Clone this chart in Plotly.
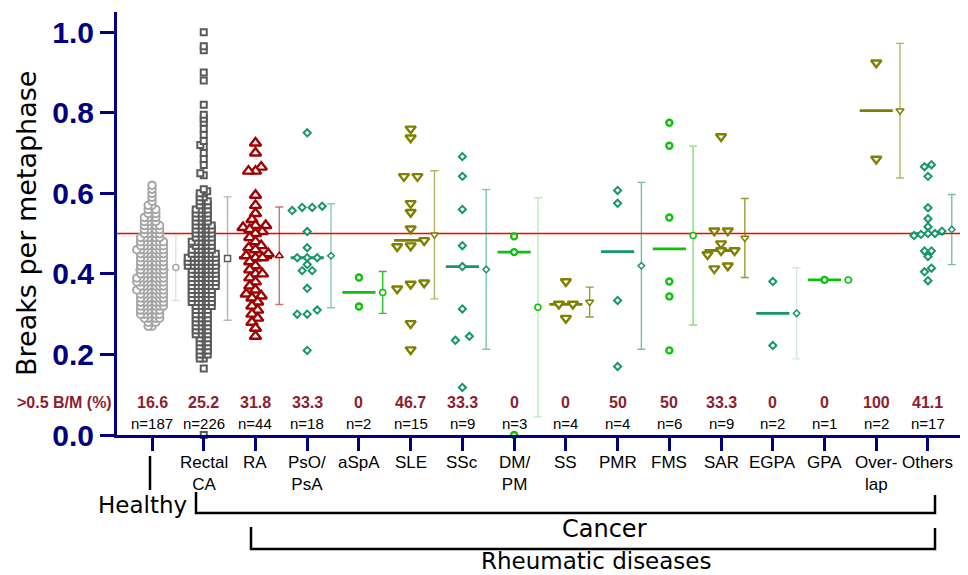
import numpy as np
import plotly.graph_objects as go

# ---------------- data ----------------
categories = ["Healthy", "Rectal CA", "RA", "PsO/PsA", "aSpA", "SLE", "SSc", "DM/PM",
              "SS", "PMR", "FMS", "SAR", "EGPA", "GPA", "Overlap", "Others"]
category_labels = ["", "Rectal<br>CA", "RA", "PsO/<br>PsA", "aSpA", "SLE", "SSc", "DM/<br>PM",
                   "SS", "PMR", "FMS", "SAR", "EGPA", "GPA", "Over-<br>lap", "Others"]
pct_above = ["16.6", "25.2", "31.8", "33.3", "0", "46.7", "33.3", "0",
             "0", "50", "50", "33.3", "0", "0", "100", "41.1"]
n_per_group = [187, 226, 44, 18, 2, 15, 9, 3, 4, 4, 6, 9, 2, 1, 2, 17]

healthy_levels = [0.27, 0.28, 0.29, 0.30, 0.31, 0.32, 0.33, 0.34, 0.35, 0.36, 0.37, 0.38,
                  0.39, 0.40, 0.41, 0.42, 0.43, 0.44, 0.45, 0.46, 0.47, 0.48, 0.49, 0.50,
                  0.51, 0.52, 0.53, 0.54, 0.55, 0.56, 0.57, 0.58, 0.59, 0.60, 0.61, 0.62]
healthy_counts = [2, 3, 5, 6, 6, 7, 7, 7, 7, 8, 7, 8,
                  8, 7, 7, 7, 7, 7, 7, 8, 7, 7, 6, 5,
                  5, 5, 4, 4, 3, 3, 2, 1, 1, 1, 1, 1]

rectal_levels = [0.0, 0.165, 0.19, 0.20, 0.21, 0.22, 0.23, 0.24, 0.25, 0.26, 0.27, 0.28,
                 0.29, 0.30, 0.31, 0.32, 0.33, 0.34, 0.35, 0.36, 0.37, 0.38, 0.39, 0.40,
                 0.41, 0.42, 0.43, 0.44, 0.45, 0.46, 0.47, 0.48, 0.49, 0.50, 0.51, 0.52,
                 0.53, 0.54, 0.55, 0.56, 0.57, 0.58, 0.59, 0.60, 0.605, 0.61, 0.645, 0.65,
                 0.67, 0.685, 0.70, 0.715, 0.72, 0.73, 0.745, 0.76, 0.775, 0.785, 0.795,
                 0.82, 0.88, 0.90, 0.955, 0.965, 1.0]
rectal_counts = [1, 1, 2, 3, 3, 3, 3, 3, 4, 4, 4, 4,
                 4, 4, 4, 5, 6, 6, 6, 6, 7, 7, 7, 7,
                 7, 8, 8, 8, 7, 6, 5, 6, 5, 5, 5, 5,
                 4, 4, 4, 4, 3, 3, 2, 2, 1, 1, 1, 1,
                 1, 1, 1, 1, 1, 1, 1, 1, 1, 1, 1,
                 1, 1, 1, 1, 1, 1]

ra = [0.725, 0.70, 0.665, 0.655, 0.655, 0.595, 0.57, 0.55, 0.535, 0.52, 0.52, 0.515, 0.51,
      0.505, 0.50, 0.49, 0.48, 0.47, 0.465, 0.46, 0.45, 0.445, 0.44, 0.44, 0.43, 0.42, 0.41,
      0.40, 0.40, 0.39, 0.38, 0.37, 0.36, 0.35, 0.345, 0.34, 0.33, 0.32, 0.31, 0.30, 0.29,
      0.28, 0.265, 0.245]
pso_psa = [0.75, 0.568, 0.565, 0.565, 0.557, 0.505, 0.465, 0.44, 0.44, 0.44, 0.423, 0.408,
           0.408, 0.364, 0.31, 0.30, 0.30, 0.21]
aspa = [0.391, 0.319]
sle = [0.76, 0.738, 0.642, 0.642, 0.575, 0.553, 0.512, 0.483, 0.47, 0.468, 0.378, 0.375,
       0.363, 0.277, 0.212]
ssc = [0.691, 0.642, 0.56, 0.47, 0.418, 0.313, 0.245, 0.235, 0.118]
dm_pm = [0.493, 0.454, 0.0]
ss = [0.381, 0.325, 0.325, 0.29]
pmr = [0.607, 0.575, 0.334, 0.17]
fms = [0.775, 0.718, 0.54, 0.381, 0.344, 0.21]
sar = [0.741, 0.507, 0.507, 0.475, 0.458, 0.458, 0.448, 0.42, 0.413]
egpa = [0.381, 0.222]
gpa = [0.385]
overlap = [0.924, 0.685]
others = [0.671, 0.666, 0.642, 0.564, 0.537, 0.517, 0.506, 0.50, 0.50, 0.498, 0.495,
          0.457, 0.457, 0.443, 0.414, 0.405, 0.383]

group_mean = [0.416, 0.438, 0.445, 0.445, 0.354, 0.497, 0.411, 0.317,
              0.330, 0.420, 0.495, 0.489, 0.302, 0.385, 0.805, 0.510]
group_sd = [0.082, 0.153, 0.121, 0.129, 0.052, 0.159, 0.198, 0.272,
            0.037, 0.207, 0.222, 0.098, 0.113, 0.0, 0.167, 0.087]
group_median = [0.41, 0.42, 0.44, 0.44, 0.354, 0.483, 0.418, 0.454,
                0.324, 0.455, 0.462, 0.458, 0.302, 0.385, 0.805, 0.50]
threshold = 0.5
# --------------------------------------

healthy = np.repeat(healthy_levels, healthy_counts)
rectal = np.repeat(rectal_levels, rectal_counts)
group_values = [healthy, rectal, ra, pso_psa, aspa, sle, ssc, dm_pm, ss, pmr, fms, sar,
                egpa, gpa, overlap, others]

# layout geometry (page has an 8px body margin; page coords are converted below)
BODY = 8
W, H = 968 - BODY, 575 - BODY
PLOT_L, PLOT_R, PLOT_T, PLOT_B = 117, 966, 12, 435   # page pixel coords
ML, MR, MT = PLOT_L - BODY, W - (PLOT_R - BODY), PLOT_T - BODY
MB = H - (PLOT_B - BODY)
PW, PH = W - ML - MR, H - MT - MB
XR = [-0.677, 15.735]
YR = [0.0, 1.05]
PX_X = PW / (XR[1] - XR[0])
PX_Y = PH / (YR[1] - YR[0])


def px_x(px):
    return (px - PLOT_L) / PW


def px_y(py):
    return (PLOT_B - py) / PH


def swarm_offsets(vals, d):
    ypx = np.asarray(vals, dtype=float) * PX_Y
    order = np.argsort(ypx, kind="stable")
    xs = np.zeros(len(ypx))
    placed = []
    for i in order:
        y = ypx[i]
        near = [(px, py) for px, py in placed if abs(py - y) < d]
        cands = [0.0]
        for px, py in near:
            dx = np.sqrt(d * d - (py - y) ** 2)
            cands += [px + dx, px - dx]
        cands.sort(key=lambda c: (abs(c), c))
        for c in cands:
            if all((c - px) ** 2 + (y - py) ** 2 >= d * d - 1e-6 for px, py in near):
                xs[i] = c
                break
        placed.append((xs[i], y))
    return xs / PX_X


def row_offsets(vals, spacing, tol):
    ypx = np.asarray(vals, dtype=float) * PX_Y
    order = np.argsort(ypx, kind="stable")
    xs = np.zeros(len(ypx))
    rows, row = [], []
    for i in order:
        if row and ypx[i] - ypx[row[0]] > tol:
            rows.append(row)
            row = []
        row.append(i)
    if row:
        rows.append(row)
    for r in rows:
        k = len(r)
        for j, idx in enumerate(r):
            xs[idx] = (j - (k - 1) / 2) * spacing
    return xs / PX_X


GRAY_L = (166, 166, 166)
GRAY_D = (90, 90, 90)
RED = (160, 0, 0)
TEAL = (22, 150, 106)
GREEN = (12, 192, 12)
OLIVE = (128, 128, 0)

# symbol, rgb, size, line width, mode, param1, param2, errbar alpha, mean marker size
styles = [
    ("circle", GRAY_L, 7.5, 2.0, "swarm", 3.8, 0, 0.35, 6),
    ("square", GRAY_D, 6, 2.0, "swarm", 4.0, 0, 0.45, 6),
    ("triangle-up", RED, 10, 2.4, "swarm", 7.0, 0, 0.55, 7),
    ("diamond", TEAL, 5.5, 2.0, "rows", 10, 5, 0.5, 5),
    ("circle", GREEN, 6, 2.4, "rows", 10, 5, 0.9, 6),
    ("triangle-down", OLIVE, 9, 2.4, "rows", 13.5, 6.5, 0.6, 7),
    ("diamond", TEAL, 5.5, 2.0, "rows", 14, 5, 0.55, 5),
    ("circle", GREEN, 6, 2.4, "rows", 10, 5, 0.3, 6),
    ("triangle-down", OLIVE, 9, 2.4, "rows", 14, 6.5, 0.8, 7),
    ("diamond", TEAL, 5.5, 2.0, "rows", 10, 5, 0.6, 5),
    ("circle", GREEN, 6, 2.4, "rows", 10, 5, 0.5, 6),
    ("triangle-down", OLIVE, 9, 2.4, "rows", 13.5, 6.5, 0.8, 7),
    ("diamond", TEAL, 5.5, 2.0, "rows", 10, 5, 0.2, 5),
    ("circle", GREEN, 6, 2.4, "rows", 10, 5, 0.9, 6),
    ("triangle-down", OLIVE, 9, 2.4, "rows", 13.5, 6.5, 0.6, 7),
    ("diamond", TEAL, 5.5, 2.0, "rows", 7, 5, 0.6, 5),
]


def rgb(c, a=1.0):
    return f"rgba({c[0]},{c[1]},{c[2]},{a})"


fig = go.Figure()

# median lines
for i, (st, med) in enumerate(zip(styles, group_median)):
    fig.add_trace(go.Scatter(x=[i - 0.32, i + 0.32], y=[med, med], mode="lines",
                             line=dict(color=rgb(st[1]), width=2.8), hoverinfo="skip"))

# points
for i, (st, vals) in enumerate(zip(styles, group_values)):
    sym, col, size, lw, mode, p1, p2, ea, ms = st
    if mode == "swarm":
        off = swarm_offsets(vals, p1)
    else:
        off = row_offsets(vals, p1, p2)
    fig.add_trace(go.Scatter(
        x=i + off, y=list(vals), mode="markers", cliponaxis=False,
        marker=dict(symbol=sym, size=size, color="white",
                    line=dict(color=rgb(col), width=lw)),
        hoverinfo="y"))

# mean +/- SD
for i, (st, m, sd) in enumerate(zip(styles, group_mean, group_sd)):
    sym, col, size, lw, mode, p1, p2, ea, ms = st
    fig.add_trace(go.Scatter(
        x=[i + 0.46], y=[m], mode="markers", cliponaxis=False,
        marker=dict(symbol=sym, size=ms, color="white",
                    line=dict(color=rgb(col), width=1.5)),
        error_y=dict(type="data", array=[sd], visible=True, color=rgb(col, ea),
                     thickness=1.4, width=4),
        hoverinfo="y"))

NAVY = "#000080"
MAROON = "#8B1E2E"

annotations = []
for i in range(len(categories)):
    annotations.append(dict(x=i, y=(PLOT_B - 402) / PX_Y, xref="x", yref="y",
                            text=pct_above[i], showarrow=False, xanchor="center",
                            yanchor="middle",
                            font=dict(family="Liberation Sans", size=16, color=MAROON,
                                      weight="bold")))
    annotations.append(dict(x=i, y=(PLOT_B - 423) / PX_Y, xref="x", yref="y",
                            text=f"n={n_per_group[i]}", showarrow=False, xanchor="center",
                            yanchor="middle",
                            font=dict(family="Liberation Sans", size=15, color="black")))
    if category_labels[i]:
        annotations.append(dict(x=i, y=px_y(451), xref="x", yref="paper",
                                text=category_labels[i], showarrow=False, xanchor="center",
                                yanchor="top",
                                font=dict(family="Liberation Sans", size=17, color="black")))

annotations += [
    dict(x=px_x(114), y=px_y(402), xref="paper", yref="paper", text=">0.5 B/M (%)",
         showarrow=False, xanchor="right", yanchor="middle",
         font=dict(family="Liberation Sans", size=16, color=MAROON, weight="bold")),
    dict(x=px_x(26), y=px_y(224), xref="paper", yref="paper", text="Breaks per metaphase",
         showarrow=False, textangle=-90, xanchor="center", yanchor="middle",
         font=dict(family="DejaVu Sans", size=27, color="black")),
    dict(x=px_x(142), y=px_y(505), xref="paper", yref="paper", text="Healthy",
         showarrow=False, xanchor="center", yanchor="middle",
         font=dict(family="DejaVu Sans", size=23, color="black")),
    dict(x=px_x(604), y=px_y(529), xref="paper", yref="paper", text="Cancer",
         showarrow=False, xanchor="center", yanchor="middle",
         font=dict(family="DejaVu Sans", size=24, color="black")),
    dict(x=px_x(596), y=px_y(561), xref="paper", yref="paper", text="Rheumatic diseases",
         showarrow=False, xanchor="center", yanchor="middle",
         font=dict(family="DejaVu Sans", size=23, color="black")),
]

blk = dict(color="black", width=2.5)
shapes = [
    dict(type="line", xref="paper", x0=0, x1=1, yref="y", y0=threshold, y1=threshold,
         line=dict(color="#FF0000", width=1.6), layer="below"),
    dict(type="line", xref="paper", yref="paper", x0=px_x(150), x1=px_x(150),
         y0=px_y(456), y1=px_y(490), line=blk),
    dict(type="path", xref="paper", yref="paper",
         path=f"M {px_x(196)} {px_y(492)} L {px_x(196)} {px_y(513)} L {px_x(935)} {px_y(513)} L {px_x(935)} {px_y(495)}",
         line=blk),
    dict(type="path", xref="paper", yref="paper",
         path=f"M {px_x(251)} {px_y(527)} L {px_x(251)} {px_y(549)} L {px_x(935)} {px_y(549)} L {px_x(935)} {px_y(528)}",
         line=blk),
]

fig.update_layout(
    width=W, height=H, margin=dict(l=ML, r=MR, t=MT, b=MB),
    plot_bgcolor="white", paper_bgcolor="white", showlegend=False,
    annotations=annotations, shapes=shapes,
    xaxis=dict(range=XR, showgrid=False, zeroline=False, showline=True, linecolor=NAVY,
               linewidth=3, ticks="outside", tickvals=list(range(len(categories))),
               ticklen=13, tickwidth=3, tickcolor=NAVY, showticklabels=False),
    yaxis=dict(range=YR, showgrid=False, zeroline=False, showline=True, linecolor=NAVY,
               linewidth=3, ticks="outside", tickvals=[0, 0.2, 0.4, 0.6, 0.8, 1.0],
               tickformat=".1f", ticklen=14, tickwidth=3, tickcolor=NAVY,
               tickfont=dict(family="Liberation Sans", size=30, color=NAVY, weight="bold")),
)

fig.write_html("out.html")
